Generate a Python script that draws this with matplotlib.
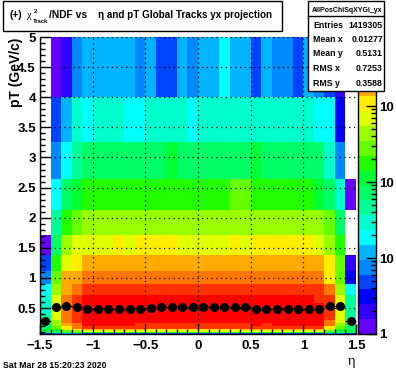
#!/usr/bin/python3
# encoding=utf-8
import numpy as np
import matplotlib
matplotlib.use('Agg')
import matplotlib.pyplot as plt
from matplotlib.colors import ListedColormap, BoundaryNorm
from matplotlib.patches import Rectangle

W, H = 396, 372

# bin edges
pt_edges = [0.07, 0.085, 0.105, 0.13, 0.16, 0.2, 0.25, 0.31, 0.38, 0.47, 0.58,
            0.72, 0.9, 1.11, 1.38, 1.71, 2.13, 2.64, 3.25, 4.0, 5.0]
eta_edges = np.linspace(-1.5, 1.5, 31)

# palette level of each cell, -1 = empty bin. rows go from low pT to high pT
row00 = [3,4,5,5,3,3,3,3,3,3,3,3,3,3,3,3,3,3,3,3,3,3,3,3,3,3,3,5,4,3]
row01 = [8,9,10,11,11,11,11,11,11,11,11,11,11,11,11,11,11,11,11,11,11,11,11,11,11,11,11,10,9,9]
row02 = [10,10,12,13,14,14,14,14,14,14,14,14,14,14,14,14,14,14,14,14,14,14,14,14,14,14,14,12,10,10]
row03 = [10,11,14,15,16,16,16,16,16,16,15,15,15,15,15,15,15,15,15,16,16,16,16,16,16,16,16,14,11,9]
row04 = [9,12,15,17,18,18,18,18,18,18,18,18,18,18,18,18,18,18,18,18,18,18,18,18,18,18,18,15,12,9]
row05 = [9,13,16,17,19,19,19,19,19,18,18,18,18,18,18,18,18,18,18,18,19,18,19,19,19,19,19,17,13,9]
row06 = [8,13,17,18,19,19,19,19,19,19,19,19,19,19,19,19,19,19,19,19,19,19,19,19,19,19,19,17,14,8]
row07 = [8,14,17,18,19,19,19,19,19,19,19,19,19,19,19,19,19,19,19,19,19,19,19,19,19,19,19,18,14,8]
row08 = [7,14,17,18,19,19,19,19,19,19,19,19,19,19,19,19,19,19,19,19,19,19,19,19,19,19,19,18,14,8]
row09 = [7,14,17,18,19,19,19,19,19,19,19,19,19,19,19,19,19,19,19,19,19,19,19,19,19,19,19,18,14,8]
row10 = [7,14,17,18,19,19,19,19,19,19,19,19,19,19,19,19,19,19,19,19,19,19,19,19,19,19,18,18,14,8]
row11 = [6,13,16,17,18,18,18,18,18,18,18,18,18,18,18,18,18,18,18,18,18,18,18,18,18,18,18,17,13,6]
row12 = [4,12,16,16,17,17,17,17,17,17,17,17,17,17,17,17,17,17,17,17,17,17,17,17,17,17,17,15,12,2]
row13 = [3,11,14,15,16,16,16,16,16,16,16,16,16,16,16,16,16,16,16,16,16,16,16,16,16,16,16,15,12,1]
row14 = [0,9,13,14,14,14,14,15,14,15,15,15,15,14,14,14,14,14,15,14,15,15,15,15,15,15,14,13,11,-1]
row15 = [-1,8,11,12,13,13,13,13,13,13,13,13,13,13,13,13,13,13,13,13,13,13,13,13,13,13,13,12,9,-1]
row16 = [-1,6,9,10,11,11,11,11,11,11,11,11,11,11,11,11,11,11,12,12,11,11,11,11,11,11,10,9,7,0]
row17 = [-1,4,6,8,9,9,9,9,9,9,9,9,10,9,9,9,9,9,9,9,10,9,9,9,9,9,9,7,4,-1]
row18 = [-1,3,5,7,6,7,7,7,6,6,7,7,7,7,6,7,7,7,7,7,7,7,7,7,7,7,6,6,2,-1]
row19 = [-1,0,1,4,5,5,5,5,5,4,5,3,3,5,4,5,5,6,5,5,3,5,4,4,3,5,4,3,1,-1]
rows = [row00, row01, row02, row03, row04, row05, row06, row07, row08, row09,
        row10, row11, row12, row13, row14, row15, row16, row17, row18, row19]

# mean pT per eta bin (the black profile points)
profile = [0.28, 0.525, 0.53, 0.51, 0.487, 0.487, 0.487, 0.487, 0.487, 0.487,
           0.50, 0.51, 0.51, 0.51, 0.51, 0.51, 0.51, 0.51, 0.51, 0.51,
           0.487, 0.487, 0.487, 0.487, 0.49, 0.49, 0.49, 0.542, 0.542, 0.28]

palette = ['#6600ff', '#3300ff', '#0000ff', '#0044ff', '#0088ff', '#00b4ff', '#00ffff',
           '#00ffcc', '#00ff99', '#00ff66', '#00ff33', '#22ff00', '#66ff00', '#99ff00',
           '#e0ff00', '#ffee00', '#ffaa00', '#ff7700', '#ff3300', '#ff0000']
z_max = 8090.0

stats_names = ['Entries', 'Mean x', 'Mean y', 'RMS x', 'RMS y']
stats_values = ['1419305', '0.01277', '0.5131', '0.7253', '0.3588']
stats_y = [25, 39, 53, 68, 83]

BOLD = 'Liberation Sans'


def box(x0, y0, x1, y1):
    return [x0 / W, 1 - y1 / H, (x1 - x0) / W, (y1 - y0) / H]


def label(x, y, s, size, ha='left', va='baseline', family=BOLD, weight='bold', **kw):
    return fig.text(x / W, 1 - y / H, s, fontsize=size, ha=ha, va=va,
                    family=family, weight=weight, **kw)


fig = plt.figure(figsize=(W / 100, H / 100), dpi=100)

# main 2D histogram
ax = fig.add_axes(box(40, 37, 356, 334))
ax.set_facecolor('white')
cmap = ListedColormap(palette)
cmap.set_bad('white')
levels = np.ma.masked_less(np.array(rows), 0)
norm = BoundaryNorm(np.arange(-0.5, 20.5), 20)
ax.pcolormesh(eta_edges, pt_edges, levels, cmap=cmap, norm=norm, zorder=1)
ax.set_xlim(-1.5, 1.5)
ax.set_ylim(0.07, 5)

for s in ['top', 'right']:
    ax.spines[s].set_visible(False)
for s in ['left', 'bottom']:
    ax.spines[s].set_linewidth(1.0)
    ax.spines[s].set_zorder(6)

ax.set_xticks(np.arange(-1.5, 1.51, 0.5))
ax.set_xticklabels(['\u22121.5', '\u22121', '\u22120.5', '0', '0.5', '1', '1.5'])
ax.set_xticks(np.arange(-1.5, 1.51, 0.1), minor=True)
ax.set_yticks(np.arange(0.5, 5.01, 0.5))
ax.set_yticklabels(['0.5', '1', '1.5', '2', '2.5', '3', '3.5', '4', '4.5', '5'])
ax.set_yticks(np.arange(0.1, 5.01, 0.1), minor=True)
ax.tick_params(which='major', direction='in', length=7, width=1.0, top=False, right=False, zorder=6)
ax.tick_params(which='minor', direction='in', length=3.5, width=1.0, top=False, right=False, zorder=6)
ax.tick_params(axis='x', which='major', pad=4)
ax.tick_params(axis='y', which='major', pad=3)
for t in ax.get_xticklabels() + ax.get_yticklabels():
    t.set_family(BOLD)
    t.set_weight('bold')
    t.set_fontsize(9.5)

ax.grid(True, which='major', color='black', linewidth=0.9, linestyle=(0, (1, 2.8)), zorder=3)
ax.set_axisbelow(False)

# profile points with their bin width bars
centers = 0.5 * (eta_edges[:-1] + eta_edges[1:])
ax.errorbar(centers, profile, xerr=0.05, fmt='o', color='black', markersize=5.5,
            elinewidth=0.9, capsize=0, zorder=5, clip_on=False)

# palette bar at the right, on a log10 axis
cax = fig.add_axes(box(358, 37, 376, 334))
log_top = np.log10(z_max)
z_edges = np.linspace(0, log_top, 21)
cax.pcolormesh([0, 1], z_edges, np.arange(20).reshape(20, 1), cmap=cmap, norm=norm)
cax.set_xlim(0, 1)
cax.set_ylim(0, log_top)
cax.set_xticks([])
cax.yaxis.tick_right()
cax.set_yticks(np.log10([1, 10, 100, 1000]))
cax.set_yticklabels(['1', '10', '10', '10'])
minor = [m * d for d in [1, 10, 100, 1000] for m in range(2, 10) if m * d < z_max]
cax.set_yticks(np.log10(minor), minor=True)
cax.tick_params(which='major', direction='in', length=7, width=1.0, pad=2.5, labelsize=9.5)
cax.tick_params(which='minor', direction='in', length=3.5, width=1.0)
for t in cax.get_yticklabels():
    t.set_family(BOLD)
    t.set_weight('bold')
for s in cax.spines.values():
    s.set_linewidth(1.0)

# axis titles
label(16, 72, 'pT (GeV/c)', 10, ha='center', va='center', rotation=90)
label(352, 365, '\u03b7', 10.5, ha='center', family='Liberation Serif', weight='normal')
label(3, 368, 'Sat Mar 28 15:20:23 2020', 6.3)

# title box
fig.add_artist(Rectangle((3 / W, 1 - 31 / H), 279 / W, 30 / H, transform=fig.transFigure,
                         facecolor='white', edgecolor='black', linewidth=1.0, zorder=2))
label(10, 18, '(+)', 7.4)
label(27, 18, '\u03c7', 7.6, family='Liberation Serif', weight='normal')
label(34, 13, '2', 4.2)
label(33, 23, 'Track', 4.2)
label(49, 18, '/NDF vs', 7.4)
label(98, 18, '\u03b7 and pT Global Tracks yx projection', 7.15)

# stats box
fig.add_artist(Rectangle((308 / W, 1 - 91 / H), 76 / W, 90 / H, transform=fig.transFigure,
                         facecolor='white', edgecolor='black', linewidth=1.0, zorder=2))
fig.add_artist(plt.Line2D([308 / W, 384 / W], [1 - 16 / H, 1 - 16 / H], transform=fig.transFigure,
                          color='black', linewidth=1.0, zorder=2))
label(347, 12, 'AllPosChiSqXYGi_yx', 5.0, ha='center')
for name, value, y in zip(stats_names, stats_values, stats_y):
    label(313, y + 3, name, 6.3)
    label(383, y + 3, value, 6.3, ha='right')

fig.savefig('out.png', dpi=100)
